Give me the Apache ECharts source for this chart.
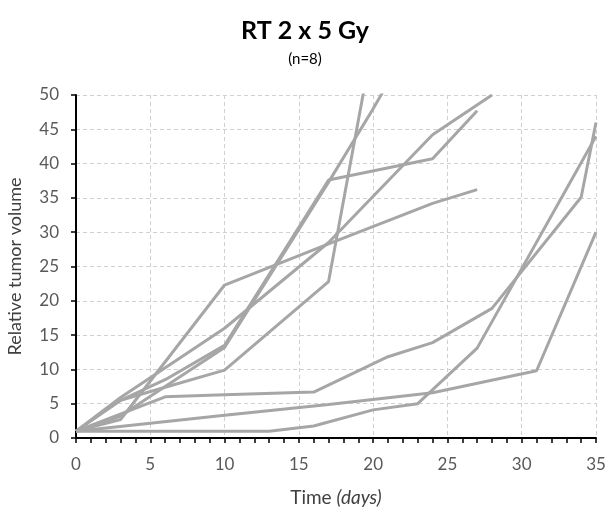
<!DOCTYPE html>
<html>
<head>
<meta charset="utf-8">
<script src="https://cdn.jsdelivr.net/npm/echarts@6/dist/echarts.min.js"></script>
<style>
  html, body { margin: 0; padding: 0; background: #fff; }
  #chart { width: 608px; height: 512px; }
</style>
</head>
<body>
<div id="chart"></div>
<script>
// tumor volume per mouse (days / relative volume)
var days1 = [0, 3, 10, 17, 24, 27];
var vol1  = [1, 2.7, 22.3, 28.3, 34.2, 36.2];
var days2 = [0, 3, 6, 10, 17, 24, 27];
var vol2  = [1, 5.5, 8.5, 13.5, 37.6, 40.7, 47.7];
var days3 = [0, 3, 6, 10, 17, 20, 24];
var vol3  = [1, 3.2, 7.5, 13.2, 37.3, 48, 63];
var days4 = [0, 3, 6, 10, 17, 20];
var vol4  = [1, 5.5, 7.4, 9.9, 22.8, 58];
var days5 = [0, 3, 10, 17, 24, 28];
var vol5  = [1, 5.9, 16, 28.5, 44.2, 50];
var days6 = [0, 6, 10, 16, 21, 24, 28, 34, 35];
var vol6  = [1, 6.0, 6.3, 6.7, 11.85, 13.9, 18.9, 35.1, 46];
var days7 = [0, 13, 16, 20, 23, 27, 35];
var vol7  = [1, 1.0, 1.75, 4.1, 5.0, 13.1, 44];
var days8 = [0, 10, 17, 24, 31, 35];
var vol8  = [1, 3.3, 4.9, 6.6, 9.8, 30];

var allDays = [days1, days2, days3, days4, days5, days6, days7, days8];
var allVols = [vol1, vol2, vol3, vol4, vol5, vol6, vol7, vol8];

var chart = echarts.init(document.getElementById('chart'));

var series = [];
for (var i = 0; i < allDays.length; i++) {
    var pts = [];
    for (var j = 0; j < allDays[i].length; j++) {
        pts.push([allDays[i][j], allVols[i][j]]);
    }
    series.push({
        type: 'line',
        data: pts,
        showSymbol: false,
        silent: true,
        clip: true,
        lineStyle: { color: '#A6A6A6', width: 3 }
    });
}

var font = 'Lato';

var option = {
    animation: false,
    title: {
        text: 'RT 2 x 5 Gy',
        subtext: '(n=8)',
        left: 300,
        textAlign: 'center',
        top: 13,
        itemGap: 9,
        textStyle: { fontFamily: font, fontSize: 25, fontWeight: 'bold', color: '#000' },
        subtextStyle: { fontFamily: font, fontSize: 15, color: '#000' }
    },
    grid: { left: 76, right: 12, top: 95, bottom: 74, containLabel: false, outerBoundsMode: 'none' },
    xAxis: {
        type: 'value',
        min: 0, max: 35, interval: 5,
        name: '{n|Time }{i|(days)}',
        nameLocation: 'middle',
        nameGap: 50,
        nameTextStyle: {
            rich: {
                n: { fontFamily: font, fontSize: 19, color: '#404040' },
                i: { fontFamily: font, fontSize: 19, color: '#404040', fontStyle: 'italic' }
            }
        },
        axisLine: { lineStyle: { color: '#000', width: 2 } },
        axisTick: { show: true, inside: false, length: 5, lineStyle: { color: '#000', width: 1.5 } },
        minorTick: { show: true, splitNumber: 5, length: 5, lineStyle: { color: '#000', width: 1.5 } },
        axisLabel: { fontFamily: font, fontSize: 17, color: '#595959', margin: 18 },
        splitLine: { show: true, lineStyle: { color: '#D0D0D0', type: [4, 3], width: 1 } }
    },
    yAxis: {
        type: 'value',
        min: 0, max: 50, interval: 5,
        name: 'Relative tumor volume',
        nameLocation: 'middle',
        nameGap: 52,
        nameTextStyle: { fontFamily: font, fontSize: 18, color: '#404040' },
        axisLine: { show: true, lineStyle: { color: '#000', width: 2 } },
        axisTick: { show: true, length: 5, lineStyle: { color: '#000', width: 1.5 } },
        axisLabel: { fontFamily: font, fontSize: 17, color: '#595959', margin: 17 },
        splitLine: { show: true, lineStyle: { color: '#D0D0D0', type: [4, 3], width: 1 } }
    },
    series: series
};

chart.setOption(option);
</script>
</body>
</html>
